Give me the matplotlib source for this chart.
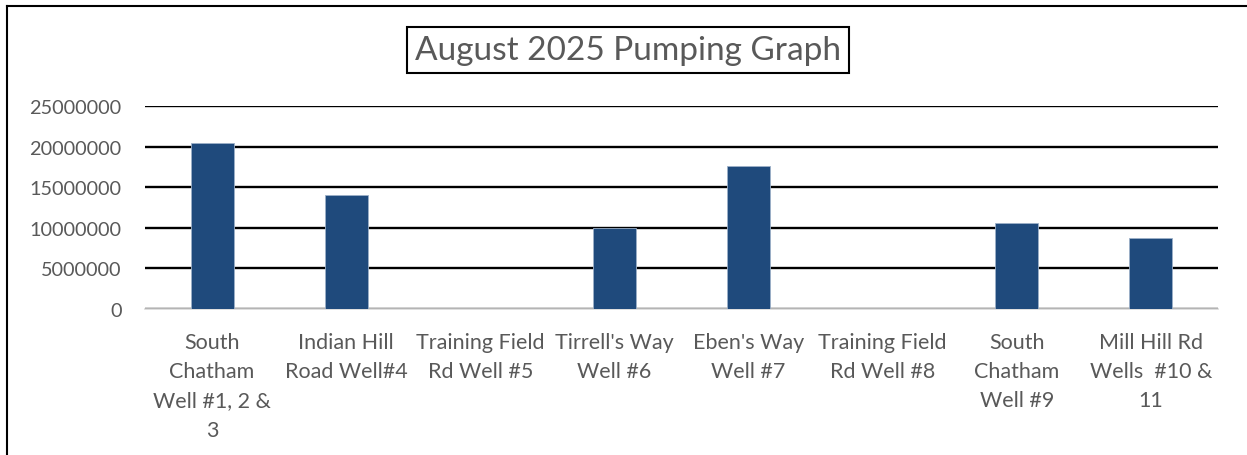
import matplotlib.pyplot as plt
from matplotlib.lines import Line2D

# --- data ---
wells = [
    "South\nChatham\nWell #1, 2 &\n3",
    "Indian Hill\nRoad Well#4",
    "Training Field\nRd Well #5",
    "Tirrell's Way\nWell #6",
    "Eben's Way\nWell #7",
    "Training Field\nRd Well #8",
    "South\nChatham\nWell #9",
    "Mill Hill Rd\nWells  #10 &\n11",
]
gallons = [20400000, 14100000, 0, 9950000, 17650000, 0, 10630000, 8780000]
yticks = [0, 5000000, 10000000, 15000000, 20000000, 25000000]

plt.rcParams['font.family'] = ['Lato', 'DejaVu Sans']
grey = '#595959'

fig = plt.figure(figsize=(12.47, 4.56), dpi=100)
ax = fig.add_axes([145 / 1247, 1 - 310 / 456, (1218 - 145) / 1247, (310 - 107) / 456])

x = range(len(wells))
ax.bar(x, gallons, width=0.32, color='#1F4A7C', edgecolor='#9DB0C8', linewidth=0.6, zorder=3)

ax.set_xlim(-0.5, len(wells) - 0.5)
ax.set_ylim(0, 25000000)
ax.set_yticks(yticks)
ax.set_yticklabels([str(v) for v in yticks])
ax.set_xticks(list(x))
ax.set_xticklabels(wells, linespacing=1.58, va='top')
ax.tick_params(axis='both', length=0, colors=grey)
ax.tick_params(axis='x', pad=16.5, labelsize=15.5)
ax.tick_params(axis='y', pad=17, labelsize=14.3)

ax.grid(axis='y', color='black', linewidth=1.7, zorder=0)
for s in ['top', 'right', 'left']:
    ax.spines[s].set_visible(False)
ax.spines['bottom'].set_color('#d9d9d9')
ax.spines['bottom'].set_linewidth(1.2)

# title in a box
fig.text(628 / 1247, 1 - 51 / 456, "August 2025 Pumping Graph", ha='center', va='center',
         fontsize=24, color=grey,
         bbox=dict(boxstyle='square,pad=0.24', facecolor='white', edgecolor='black', linewidth=1.5))

# chart area border (top and left visible)
fig.add_artist(Line2D([7 / 1247, 1], [1 - 7 / 456, 1 - 7 / 456], color='black', linewidth=1.5,
                      transform=fig.transFigure))
fig.add_artist(Line2D([7 / 1247, 7 / 1247], [0, 1 - 7 / 456], color='black', linewidth=1.5,
                      transform=fig.transFigure))

plt.savefig('out.png', dpi=100)
